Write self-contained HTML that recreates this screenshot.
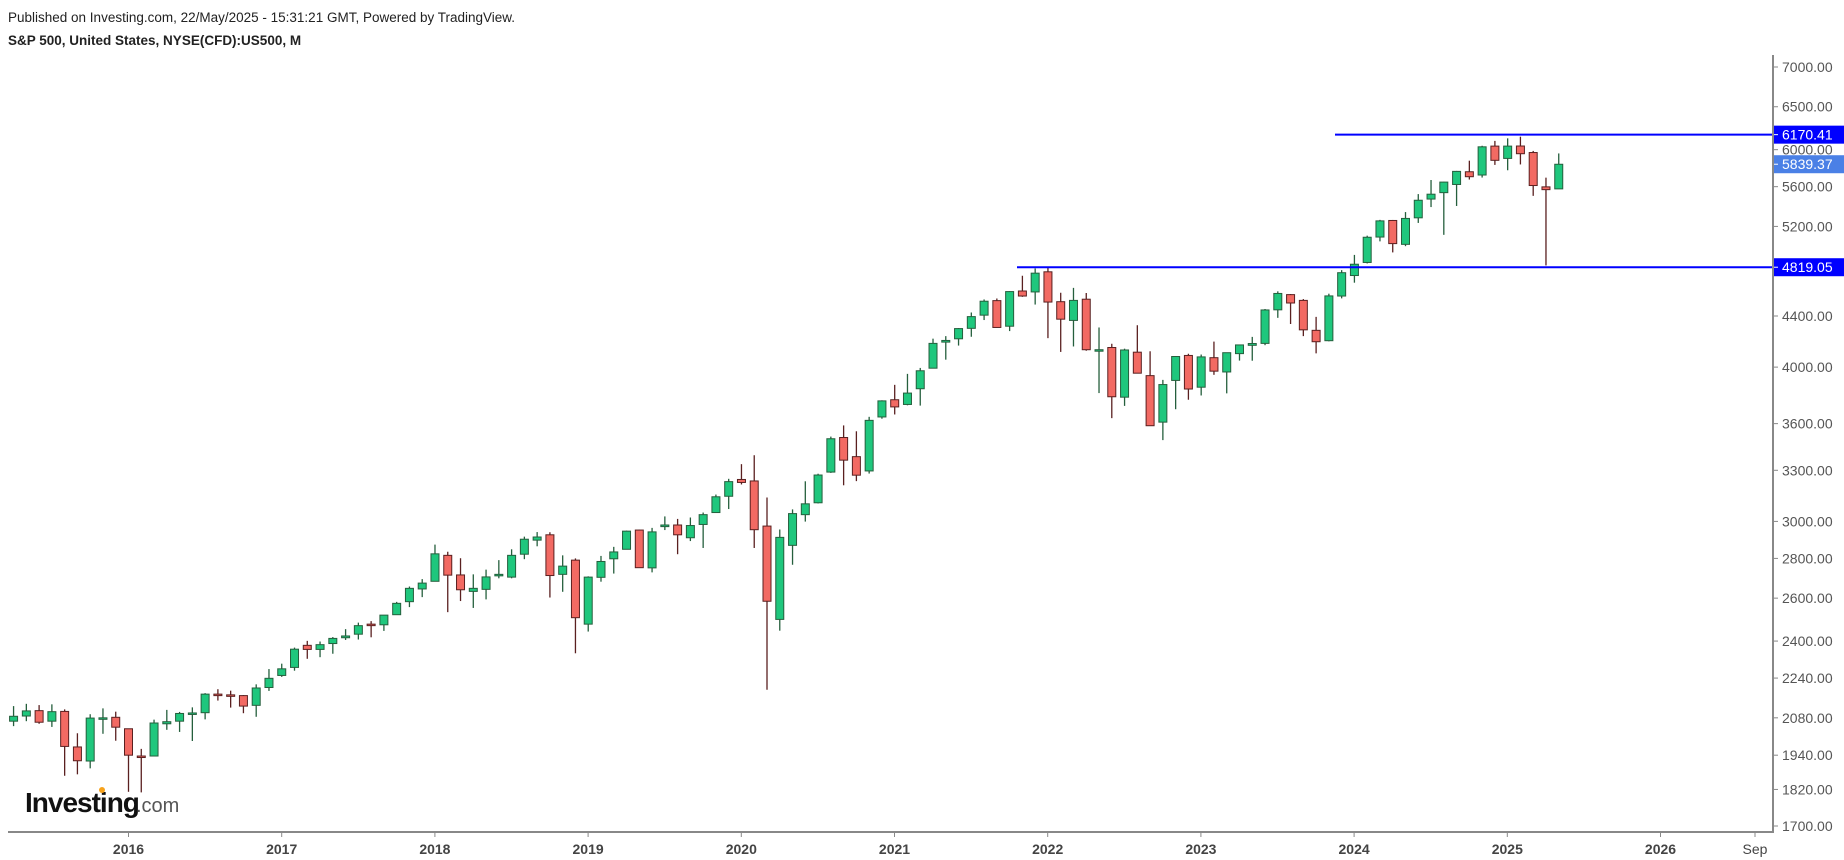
<!DOCTYPE html>
<html><head><meta charset="utf-8">
<style>
html,body{margin:0;padding:0;background:#fff;width:1844px;height:860px;overflow:hidden;font-family:"Liberation Sans",Arial,sans-serif}
</style></head>
<body>
<svg id="c" width="1844" height="860" xmlns="http://www.w3.org/2000/svg" font-family="Liberation Sans, Arial, sans-serif">
<text x="8" y="22" font-size="13.5" fill="#222">Published on Investing.com, 22/May/2025 - 15:31:21 GMT, Powered by TradingView.</text>
<text x="8" y="45" font-size="13.5" font-weight="bold" fill="#222">S&amp;P 500, United States, NYSE(CFD):US500, M</text>
<g id="g"></g>
<line x1="1773" y1="55" x2="1773" y2="833" stroke="#888" stroke-width="2"/>
<line x1="8" y1="832" x2="1773" y2="832" stroke="#888" stroke-width="2"/>
<text x="25" y="812" font-size="28" font-weight="bold" fill="#111" letter-spacing="-1">Investing</text>
<circle cx="102" cy="790" r="3" fill="#f7a21b"/>
<text x="136" y="812" font-size="20" fill="#555">.com</text>
</svg>
<script>
var d=[
[2067,2126,2048,2086],[2087,2135,2067,2107],[2108,2130,2057,2063],[2067,2133,2045,2104],[2105,2113,1867,1972],[1970,2021,1872,1920],[1919,2094,1893,2079],[2080,2117,2019,2080],[2082,2104,1993,2044],
[2038,2038,1812,1940],[1937,1963,1810,1932],[1937,2073,1937,2060],[2057,2111,2034,2065],[2067,2103,2026,2097],[2094,2121,1992,2099],[2100,2178,2074,2174],[2174,2194,2148,2171],[2171,2188,2120,2168],[2168,2170,2098,2126],[2129,2214,2084,2199],[2201,2278,2187,2239],
[2251,2301,2245,2279],[2285,2371,2271,2364],[2381,2401,2322,2363],[2363,2398,2329,2384],[2389,2418,2344,2412],[2415,2454,2405,2423],[2431,2484,2407,2470],[2477,2491,2417,2472],[2474,2519,2446,2519],[2521,2582,2520,2575],[2583,2657,2557,2648],[2645,2694,2605,2674],
[2683,2873,2683,2824],[2816,2835,2533,2714],[2715,2801,2586,2641],[2633,2718,2553,2648],[2643,2742,2594,2705],[2718,2791,2698,2718],[2704,2848,2698,2816],[2822,2916,2796,2902],[2897,2941,2864,2914],[2926,2940,2603,2712],[2718,2816,2631,2760],[2791,2800,2346,2507],
[2477,2708,2443,2704],[2703,2813,2681,2784],[2798,2861,2722,2834],[2848,2949,2848,2946],[2952,2954,2751,2752],[2751,2964,2728,2942],[2971,3028,2952,2980],[2980,3014,2822,2926],[2910,3022,2892,2977],[2983,3050,2855,3038],[3050,3154,3050,3141],[3144,3248,3070,3231],
[3244,3338,3214,3226],[3235,3394,2855,2954],[2974,3137,2192,2585],[2499,2955,2447,2912],[2869,3068,2767,3044],[3038,3233,2999,3100],[3106,3279,3102,3271],[3289,3514,3284,3500],[3508,3588,3209,3363],[3385,3549,3234,3270],[3296,3646,3280,3622],[3645,3760,3633,3756],
[3764,3870,3662,3714],[3731,3950,3725,3811],[3842,3994,3723,3973],[3992,4218,3992,4181],[4191,4238,4056,4204],[4217,4302,4164,4298],[4300,4429,4233,4395],[4407,4538,4367,4523],[4528,4546,4306,4307],[4317,4608,4278,4605],[4610,4743,4560,4567],[4602,4808,4495,4766],
[4778,4818,4222,4516],[4519,4595,4115,4374],[4364,4637,4157,4530],[4540,4593,4124,4132],[4130,4307,3811,4132],[4149,4178,3637,3785],[3782,4140,3721,4130],[4113,4325,3955,3955],[3937,4120,3585,3586],[3610,3906,3491,3872],[3902,4080,3698,4080],[4088,4101,3764,3840],
[3853,4095,3794,4077],[4071,4195,3943,3970],[3964,4110,3809,4109],[4102,4170,4049,4169],[4166,4232,4048,4180],[4181,4458,4167,4450],[4451,4607,4385,4589],[4579,4584,4335,4508],[4530,4541,4238,4288],[4284,4393,4104,4194],[4202,4587,4197,4568],[4567,4793,4547,4770],
[4745,4931,4682,4846],[4862,5111,4853,5096],[5098,5264,5057,5254],[5258,5263,4954,5036],[5029,5341,5012,5278],[5284,5523,5234,5460],[5472,5670,5391,5522],[5538,5651,5119,5648],[5623,5767,5402,5762],[5758,5878,5675,5705],[5723,6044,5696,6032],[6040,6099,5832,5882],
[5903,6128,5774,6040],[6041,6147,5837,5955],[5968,5986,5505,5612],[5598,5695,4835,5569],[5577,5958,5578,5839]];
function Y(p){return 67+(Math.log(7000)-Math.log(p))*536.3;}
function X(i){return 128.5+(i-9)*12.77;}
var s='';
d.forEach(function(c,i){var x=X(i),o=c[0],h=c[1],l=c[2],cl=c[3];var up=cl>=o;
var w=up?'#255f3d':'#5a2020',f=up?'#1fc77d':'#f26a63';
s+='<line x1="'+x+'" y1="'+Y(h)+'" x2="'+x+'" y2="'+Y(l)+'" stroke="'+w+'" stroke-width="1.3"/>';
var t=Y(Math.max(o,cl)),b=Y(Math.min(o,cl));if(b-t<1.5){b=t+1.5;}
s+='<rect x="'+(x-4)+'" y="'+t+'" width="8" height="'+(b-t)+'" fill="'+f+'" stroke="'+w+'" stroke-width="1"/>';});
// hlines
s+='<line x1="1335" y1="'+Y(6170.41)+'" x2="1773" y2="'+Y(6170.41)+'" stroke="#0000ff" stroke-width="2"/>';
s+='<line x1="1017" y1="'+Y(4819.05)+'" x2="1773" y2="'+Y(4819.05)+'" stroke="#0000ff" stroke-width="2"/>';
// y labels
[7000,6500,6000,5600,5200,4400,4000,3600,3300,3000,2800,2600,2400,2240,2080,1940,1820,1700].forEach(function(p){var y=Y(p);
s+='<line x1="1773" y1="'+y+'" x2="1778" y2="'+y+'" stroke="#888"/>';
s+='<text x="1782" y="'+(y+5)+'" font-size="14" fill="#555">'+p.toFixed(2)+'</text>';});
function box(p,col){var y=Y(p);s+='<rect x="1774" y="'+(y-9)+'" width="70" height="18" fill="'+col+'"/><line x1="1773" y1="'+y+'" x2="1778" y2="'+y+'" stroke="#fff"/><text x="1782" y="'+(y+5)+'" font-size="14" fill="#fff">'+p.toFixed(2)+'</text>';}
box(6170.41,'#0000ff');box(5839.37,'#4a80e6');box(4819.05,'#0000ff');
// x labels
for(var k=0;k<11;k++){var x=128.5+153.2*k;s+='<line x1="'+x+'" y1="832" x2="'+x+'" y2="837" stroke="#888"/><text x="'+x+'" y="854" font-size="14" font-weight="bold" fill="#444" text-anchor="middle">'+(2016+k)+'</text>';}
s+='<line x1="1755" y1="832" x2="1755" y2="837" stroke="#888"/><text x="1755" y="854" font-size="14" fill="#444" text-anchor="middle">Sep</text>';
document.getElementById('g').innerHTML=s;
</script>
</body></html>
